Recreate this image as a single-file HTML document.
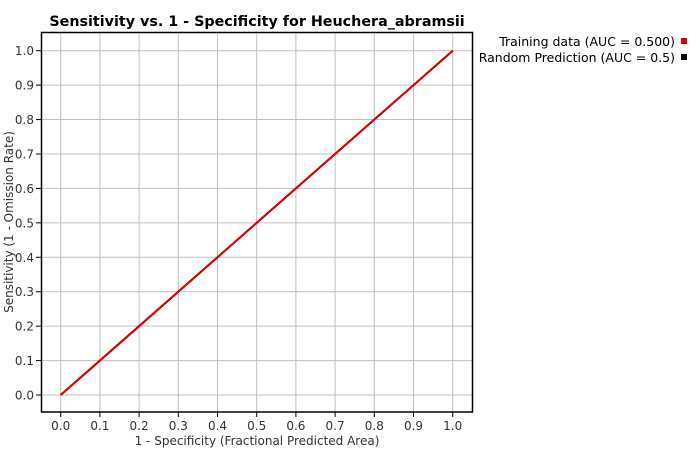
<!DOCTYPE html>
<html><head><meta charset="utf-8"><style>
body{margin:0;background:#fff;}
svg text{font-family:"DejaVu Sans","Liberation Sans",sans-serif;}
</style></head><body>
<svg id="c" width="700" height="450" xmlns="http://www.w3.org/2000/svg"></svg>
<script>
const xTicks=[0,0.1,0.2,0.3,0.4,0.5,0.6,0.7,0.8,0.9,1.0];
const yTicks=[0,0.1,0.2,0.3,0.4,0.5,0.6,0.7,0.8,0.9,1.0];
const trainX=[0,1];
const trainY=[0,1];
const randX=[0,1];
const randY=[0,1];
const svg=document.getElementById('c');
const NS='http://www.w3.org/2000/svg';
const X0=60.7,X1=452.7,Y0=395,Y1=50.7;
const sx=v=>X0+(X1-X0)*v, sy=v=>Y0+(Y1-Y0)*v;
function mk(t,a,txt){const e=document.createElementNS(NS,t);for(const k in a)e.setAttribute(k,a[k]);if(txt!==undefined)e.textContent=txt;svg.appendChild(e);return e;}
let e;
e=mk('rect',{x:41.5,y:32.5,width:431,height:379.5,fill:'#fff',stroke:'none'});


xTicks.forEach(v=>{
 e=mk('line',{x1:sx(v),x2:sx(v),y1:32.5,y2:412,stroke:'#c0c0c0','stroke-width':1});
 
 
 e=mk('line',{x1:sx(v),x2:sx(v),y1:412,y2:417,stroke:'#000'});
 
 
 e=mk('text',{x:sx(v),y:430,'font-size':12,'text-anchor':'middle',fill:'#333'},v.toFixed(1));
 
 
});
yTicks.forEach(v=>{
 e=mk('line',{x1:41.5,x2:472.5,y1:sy(v),y2:sy(v),stroke:'#c0c0c0','stroke-width':1});
 
 
 e=mk('line',{x1:36,x2:41.5,y1:sy(v),y2:sy(v),stroke:'#000'});
 
 
 e=mk('text',{x:34,y:sy(v)+4.5,'font-size':12,'text-anchor':'end',fill:'#333'},v.toFixed(1));
 
 
});
e=mk('rect',{x:41.5,y:32.5,width:431,height:379.5,fill:'none',stroke:'#000','stroke-width':1.5});


e=mk('polyline',{points:randX.map((v,i)=>sx(v)+','+sy(randY[i])).join(' '),fill:'none',stroke:'#000','stroke-width':2});


e=mk('polyline',{points:trainX.map((v,i)=>sx(v)+','+sy(trainY[i])).join(' '),fill:'none',stroke:'#e00000','stroke-width':2});


e=mk('text',{x:257,y:26,'font-size':14.3,'font-weight':'bold','text-anchor':'middle',fill:'#000'},'Sensitivity vs. 1 - Specificity for Heuchera_abramsii');


e=mk('text',{x:257,y:445,'font-size':12,'text-anchor':'middle',fill:'#333'},'1 - Specificity  (Fractional Predicted Area)');


e=mk('text',{x:0,y:0,'font-size':12,'text-anchor':'middle',fill:'#333',transform:'translate(13,222) rotate(-90)'},'Sensitivity  (1 - Omission Rate)');


e=mk('text',{x:675,y:46,'font-size':12.5,'text-anchor':'end',fill:'#000'},'Training data (AUC = 0.500)');


e=mk('rect',{x:681,y:38,width:6,height:6,fill:'#e00000'});


e=mk('text',{x:675,y:62,'font-size':12.5,'text-anchor':'end',fill:'#000'},'Random Prediction (AUC = 0.5)');


e=mk('rect',{x:681,y:54,width:6,height:6,fill:'#000'});


</script>
</body></html>
